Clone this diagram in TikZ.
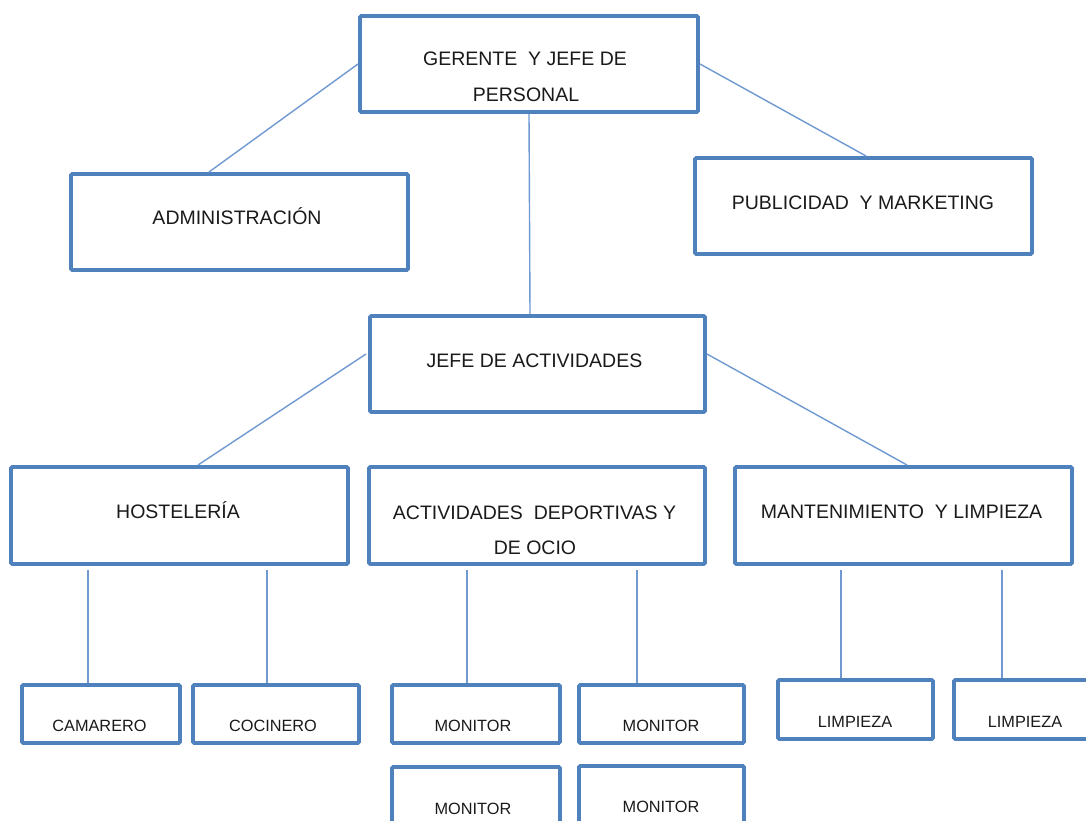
\documentclass[tikz,border=0pt]{standalone}
\usepackage{fontspec}
\setmainfont{Liberation Sans}
\usetikzlibrary{fit,calc}
\definecolor{boxblue}{HTML}{4F81BD}
\definecolor{lineblue}{HTML}{7099D2}
\definecolor{txt}{HTML}{1A1A1A}
\tikzset{
  bx/.style={draw=boxblue, line width=3.6pt, rounded corners=1.2pt, inner sep=0pt, fill=white},
  conn/.style={draw=lineblue, line width=1.4pt},
  bigtxt/.style={anchor=base, inner sep=0pt, text=txt, font=\fontsize{19.5}{24}\selectfont},
  smalltxt/.style={anchor=base, inner sep=0pt, text=txt, font=\fontsize{16.3}{20}\selectfont}
}
\begin{document}
\begin{tikzpicture}[x=1pt,y=-1pt]
\clip (0,0) rectangle (1086,820);
\fill[white] (0,0) rectangle (1086,820);
% connector end points
\coordinate (gL) at (358,64);
\coordinate (gR) at (700,64);
\coordinate (gB) at (529,114);
\coordinate (aT) at (209,172);
\coordinate (pT) at (866,156);
\coordinate (jT) at (530,314);
\coordinate (jL) at (366,354);
\coordinate (jR) at (707,354);
\coordinate (hT) at (198,465);
\coordinate (mT) at (907,465);
% boxes
\node[bx, fit={(360,16)(698,112)}] (ger) {};
\node[bx, fit={(71,174)(408,270)}] (adm) {};
\node[bx, fit={(695,158)(1032,254)}] (pub) {};
\node[bx, fit={(370,316)(705,412)}] (jef) {};
\node[bx, fit={(11,467)(348,564)}] (hos) {};
\node[bx, fit={(369,467)(705,564)}] (act) {};
\node[bx, fit={(735,467)(1072,564)}] (man) {};
\node[bx, fit={(22,685)(180,743)}] (cam) {};
\node[bx, fit={(193,685)(359,743)}] (coc) {};
\node[bx, fit={(392,685)(560,743)}] (mon1) {};
\node[bx, fit={(579,685)(744,743)}] (mon2) {};
\node[bx, fit={(392,767)(560,850)}] (mon3) {};
\node[bx, fit={(579,766)(744,850)}] (mon4) {};
\node[bx, fit={(778,680)(933,739)}] (lim1) {};
\node[bx, fit={(954,680)(1110,739)}] (lim2) {};
% connectors
\draw[conn] (gL) -- (aT);
\draw[conn] (gR) -- (pT);
\draw[conn] (gB) -- (jT);
\draw[conn] (jL) -- (hT);
\draw[conn] (jR) -- (mT);
\draw[conn] ([xshift=-91.5pt]hos.south) ++(0,4) -- ([xshift=-13pt]cam.north);
\draw[conn] ([xshift=87.5pt]hos.south) ++(0,4) -- ([xshift=-9pt]coc.north);
\draw[conn] ([xshift=-70pt]act.south) ++(0,4) -- ([xshift=-9pt]mon1.north);
\draw[conn] ([xshift=100pt]act.south) ++(0,4) -- ([xshift=-24.5pt]mon2.north);
\draw[conn] ([xshift=-62.5pt]man.south) ++(0,4) -- ([xshift=-14.5pt]lim1.north);
\draw[conn] ([xshift=98.5pt]man.south) ++(0,4) -- ([xshift=-30pt]lim2.north);
% texts
\node[bigtxt] (t1) at (525,65) {GERENTE\ \ Y JEFE DE};
\node[bigtxt] (t2) at (526,101) {PERSONAL};
\node[bigtxt] (t3) at (237,224) {ADMINISTRACIÓN};
\node[bigtxt] (t4) at (863,209) {PUBLICIDAD\ \ Y MARKETING};
\node[bigtxt] (t5) at (534.5,367) {JEFE DE ACTIVIDADES};
\node[bigtxt] (t6) at (178,518) {HOSTELERÍA};
\node[bigtxt] (t7) at (534.5,519) {ACTIVIDADES\ \ DEPORTIVAS Y};
\node[bigtxt] (t8) at (535,554) {DE OCIO};
\node[bigtxt] (t9) at (901.5,518) {MANTENIMIENTO\ \ Y LIMPIEZA};
\node[smalltxt] (s1) at (99.5,731) {CAMARERO};
\node[smalltxt] (s2) at (273,731) {COCINERO};
\node[smalltxt] (s3) at (473,731) {MONITOR};
\node[smalltxt] (s4) at (661,731) {MONITOR};
\node[smalltxt] (s5) at (473,814) {MONITOR};
\node[smalltxt] (s6) at (661,812) {MONITOR};
\node[smalltxt] (s7) at (855,727) {LIMPIEZA};
\node[smalltxt] (s8) at (1025,727) {LIMPIEZA};
\end{tikzpicture}
\end{document}
